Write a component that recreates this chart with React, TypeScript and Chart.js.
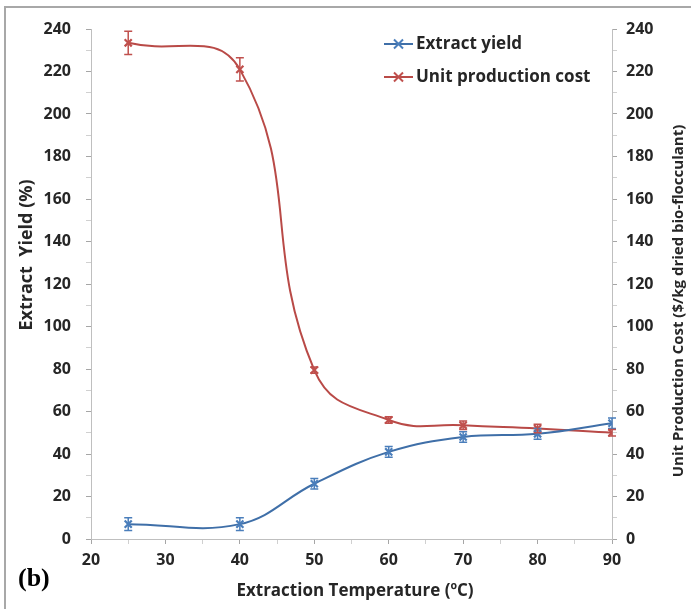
import React, { useEffect, useRef } from "react";
import { Chart, registerables } from "chart.js";

Chart.register(...registerables);

// Extraction temperature (°C)
const temperatures = [25, 40, 50, 60, 70, 80, 90];
// Extract yield (%) and its error
const extractYield = [7, 7, 26, 41, 48, 49.5, 54.5];
const yieldError = [3, 3, 2.5, 2.5, 2.5, 2.5, 2.5];
// Unit production cost ($/kg dried bio-flocculant) and its error
const unitCost = [233.5, 221, 79.5, 56, 53.5, 52, 50];
const costError = [5.5, 5.5, 1.5, 1.5, 2, 2, 1.5];

const seriesNames = ["Extract yield", "Unit production cost"];
const xTitle = "Extraction Temperature (\u00baC)";
const yTitle = "Extract  Yield (%)";
const y1Title = "Unit Production Cost ($/kg dried bio-flocculant)";
const panelLabel = "(b)";

const BLUE = "#4a7ebb";
const BLUE_LINE = "#3f6fa8";
const RED = "#c0504d";
const RED_LINE = "#b94a47";
const AXIS = "#bfbfbf";
const TEXT = "#262626";
const FONT = "'Open Sans', 'DejaVu Sans', sans-serif";
const TICK_FONT = { family: FONT, size: 16, weight: "bold" as const };

const errorBars = {
  id: "errorBars",
  afterDatasetsDraw(chart: Chart) {
    const ctx = chart.ctx;
    const x = chart.scales.x;
    const sets = [
      { scale: chart.scales.y, values: extractYield, err: yieldError, color: BLUE },
      { scale: chart.scales.y1, values: unitCost, err: costError, color: RED },
    ];
    ctx.save();
    ctx.lineWidth = 1.5;
    for (const s of sets) {
      ctx.strokeStyle = s.color;
      s.values.forEach((v, i) => {
        const px = x.getPixelForValue(temperatures[i]);
        const top = s.scale.getPixelForValue(v + s.err[i]);
        const bot = s.scale.getPixelForValue(v - s.err[i]);
        ctx.beginPath();
        ctx.moveTo(px, top);
        ctx.lineTo(px, bot);
        ctx.moveTo(px - 4, top);
        ctx.lineTo(px + 4, top);
        ctx.moveTo(px - 4, bot);
        ctx.lineTo(px + 4, bot);
        ctx.stroke();
      });
    }
    ctx.restore();
  },
};

const titlesAndLegend = {
  id: "titlesAndLegend",
  afterDraw(chart: Chart) {
    const ctx = chart.ctx;
    ctx.save();
    ctx.fillStyle = TEXT;
    ctx.textAlign = "center";
    ctx.textBaseline = "middle";

    // x-axis title
    ctx.font = `bold 17px ${FONT}`;
    ctx.fillText(xTitle, 355, 591);

    // left axis title
    ctx.font = `bold 18px ${FONT}`;
    ctx.save();
    ctx.translate(27, 255);
    ctx.rotate(-Math.PI / 2);
    ctx.fillText(yTitle, 0, 0);
    ctx.restore();

    // right axis title
    ctx.font = `bold 15px ${FONT}`;
    ctx.save();
    ctx.translate(679, 301);
    ctx.rotate(-Math.PI / 2);
    ctx.fillText(y1Title, 0, 0);
    ctx.restore();

    // legend
    const rows = [
      { name: seriesNames[0], color: BLUE, line: BLUE_LINE, y: 44 },
      { name: seriesNames[1], color: RED, line: RED_LINE, y: 77 },
    ];
    ctx.font = `bold 17px ${FONT}`;
    ctx.textAlign = "left";
    for (const r of rows) {
      ctx.strokeStyle = r.line;
      ctx.lineWidth = 2;
      ctx.beginPath();
      ctx.moveTo(384, r.y);
      ctx.lineTo(413, r.y);
      ctx.stroke();
      ctx.strokeStyle = r.color;
      ctx.beginPath();
      ctx.moveTo(394, r.y - 4.5);
      ctx.lineTo(403, r.y + 4.5);
      ctx.moveTo(394, r.y + 4.5);
      ctx.lineTo(403, r.y - 4.5);
      ctx.stroke();
      ctx.fillStyle = TEXT;
      ctx.fillText(r.name, 416, r.y);
    }
    ctx.restore();
  },
};

const tickColor = (step: number) => (c: any) =>
  c.tick && c.tick.value % step === 0 ? "#a6a6a6" : "#d0d0d0";

export default function App() {
  const ref = useRef<HTMLCanvasElement>(null);

  useEffect(() => {
    if (!ref.current) return;
    const chart = new Chart(ref.current, {
      type: "line",
      data: {
        datasets: [
          {
            label: seriesNames[0],
            data: temperatures.map((t, i) => ({ x: t, y: extractYield[i] })),
            yAxisID: "y",
            borderColor: BLUE_LINE,
            borderWidth: 2,
            pointStyle: "crossRot",
            pointRadius: 5,
            pointBorderWidth: 2.2,
            pointBorderColor: BLUE,
            pointBackgroundColor: BLUE,
            tension: 0.4,
            fill: false,
          },
          {
            label: seriesNames[1],
            data: temperatures.map((t, i) => ({ x: t, y: unitCost[i] })),
            yAxisID: "y1",
            borderColor: RED_LINE,
            borderWidth: 2,
            pointStyle: "crossRot",
            pointRadius: 5,
            pointBorderWidth: 2.2,
            pointBorderColor: RED,
            pointBackgroundColor: RED,
            tension: 0.45,
            fill: false,
          },
        ],
      },
      options: {
        responsive: false,
        animation: false,
        layout: { padding: { top: 29, left: 0, right: 0, bottom: 0 } },
        plugins: {
          legend: { display: false },
          tooltip: { enabled: false },
        },
        scales: {
          x: {
            type: "linear",
            min: 20,
            max: 90,
            afterFit: (s: any) => {
              s.height = 70;
            },
            ticks: {
              stepSize: 5,
              autoSkip: false,
              maxRotation: 0,
              padding: 7,
              color: TEXT,
              font: TICK_FONT,
              callback: (v: any) => (Number(v) % 10 === 0 ? String(v) : ""),
            },
            grid: {
              drawOnChartArea: false,
              drawTicks: true,
              tickLength: 5,
              tickColor: tickColor(10),
            },
            border: { display: true, color: AXIS, width: 1 },
          },
          y: {
            type: "linear",
            position: "left",
            min: 0,
            max: 240,
            afterFit: (s: any) => {
              s.width = 91;
            },
            ticks: {
              stepSize: 10,
              autoSkip: false,
              padding: 15,
              color: TEXT,
              font: TICK_FONT,
              callback: (v: any) => (Number(v) % 20 === 0 ? String(v) : ""),
            },
            grid: {
              drawOnChartArea: false,
              drawTicks: true,
              tickLength: 5,
              tickColor: tickColor(20),
            },
            border: { display: true, color: AXIS, width: 1 },
          },
          y1: {
            type: "linear",
            position: "right",
            min: 0,
            max: 240,
            afterFit: (s: any) => {
              s.width = 79;
            },
            ticks: {
              stepSize: 10,
              autoSkip: false,
              padding: 9,
              color: TEXT,
              font: TICK_FONT,
              callback: (v: any) => (Number(v) % 20 === 0 ? String(v) : ""),
            },
            grid: {
              drawOnChartArea: false,
              drawTicks: true,
              tickLength: 5,
              tickColor: tickColor(20),
            },
            border: { display: true, color: AXIS, width: 1 },
          },
        },
      },
      plugins: [errorBars, titlesAndLegend],
    });
    return () => chart.destroy();
  }, []);

  return (
    <div
      style={{
        position: "fixed",
        left: 0,
        top: 0,
        width: 691,
        height: 609,
        background: "#ffffff",
        overflow: "hidden",
      }}
    >
      <div
        style={{
          position: "absolute",
          left: 4,
          top: 6,
          width: 720,
          height: 640,
          borderLeft: "2px solid #a8a8a8",
          borderTop: "2px solid #a8a8a8",
        }}
      />
      <canvas ref={ref} width={691} height={609} style={{ position: "absolute", left: 0, top: 0 }} />
      <div
        style={{
          position: "absolute",
          left: 18,
          top: 563,
          fontFamily: "'Liberation Serif', 'Times New Roman', serif",
          fontWeight: "bold",
          fontSize: 26,
          color: "#000",
          lineHeight: "30px",
        }}
      >
        {panelLabel}
      </div>
    </div>
  );
}
